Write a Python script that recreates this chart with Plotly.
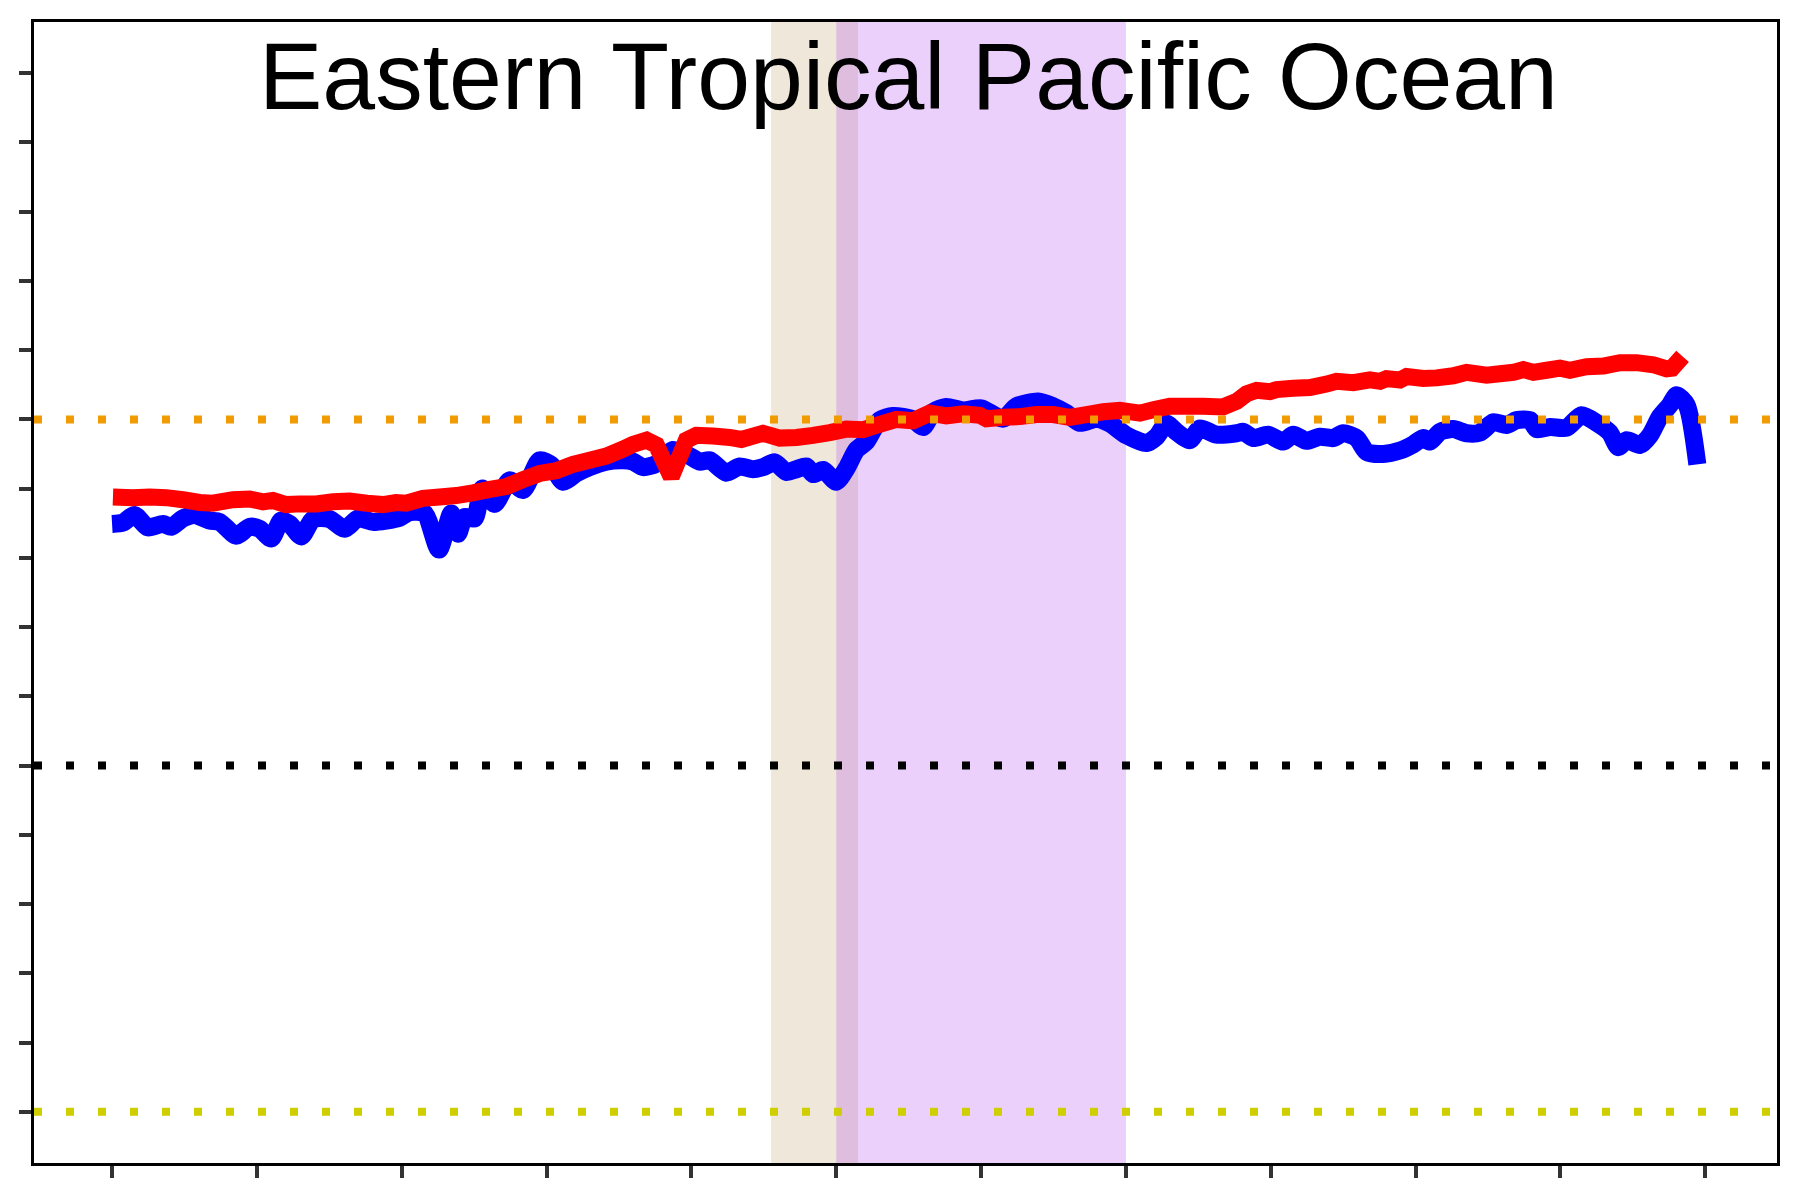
import plotly.graph_objects as go

# ---- data (x in years since start, y in chart units) ----
blue_x = [0.0, 0.75, 1.55, 2.47, 3.51, 4.09, 4.89, 5.7, 6.73, 7.42, 8.58, 9.5, 10.19, 10.99, 11.68,
          12.26, 13.07, 13.87, 15.02, 16.06, 16.98, 18.01, 18.93, 19.85, 20.54, 21.58, 22.57, 23.42,
          23.88, 24.34, 25.03, 25.56, 26.41, 27.45, 28.37, 29.52, 30.33, 31.13, 32.05, 32.97, 34.12,
          35.27, 35.96, 36.66, 37.58, 38.73, 39.88, 40.57, 41.26, 42.41, 43.33, 44.25, 44.94, 45.75,
          46.56, 47.25, 47.94, 48.4, 49.09, 50.0, 50.7, 51.39, 52.08, 53.0, 53.92, 55.3, 56.0, 56.69,
          57.6, 58.76, 60.0, 61.52, 62.44, 63.94, 64.97, 65.9, 66.82, 67.97, 68.89, 70.04, 71.42,
          72.11, 72.8, 73.49, 74.41, 75.1, 76.25, 77.64, 78.1, 78.79, 79.8, 80.86, 81.55, 82.47,
          83.39, 84.31, 85.0, 85.93, 86.62, 87.77, 88.92, 89.84, 90.53, 90.99, 91.68, 92.6, 93.52,
          94.44, 95.36, 96.28, 96.98, 97.9, 98.36, 99.28, 100.42, 101.46, 102.5, 103.4, 103.99,
          104.57, 105.49, 106.18, 106.87, 107.56, 108.02, 108.71, 109.45]
blue_y = [8.49, 8.51, 8.62, 8.44, 8.49, 8.45, 8.57, 8.62, 8.54, 8.52, 8.32, 8.45, 8.42, 8.28, 8.54,
          8.49, 8.31, 8.56, 8.56, 8.42, 8.57, 8.52, 8.54, 8.58, 8.66, 8.64, 8.12, 8.64,
          8.35, 8.59, 8.57, 9.00, 8.78, 9.12, 8.98, 9.41, 9.34, 9.10, 9.22, 9.31, 9.39,
          9.41, 9.39, 9.31, 9.36, 9.56, 9.47, 9.39, 9.41, 9.23, 9.32, 9.28, 9.31, 9.38,
          9.24, 9.28, 9.32, 9.21, 9.27, 9.10, 9.29, 9.56, 9.68, 9.99, 10.05, 10.00, 9.89, 10.11,
          10.18, 10.13, 10.16, 10.01, 10.19, 10.26, 10.19, 10.09, 9.95, 10.01, 9.94, 9.77, 9.66,
          9.75, 9.94, 9.82, 9.70, 9.87, 9.78, 9.80, 9.82, 9.73, 9.78, 9.68, 9.78, 9.69,
          9.75, 9.73, 9.80, 9.73, 9.53, 9.50, 9.55, 9.64, 9.73, 9.68, 9.82, 9.86, 9.80,
          9.81, 9.96, 9.92, 9.99, 9.99, 9.86, 9.89, 9.88, 10.06, 9.95, 9.81, 9.60,
          9.70, 9.63, 9.77, 10.04, 10.21, 10.35, 10.21, 9.35]

red_x = [0.06, 1.44, 2.59, 3.74, 4.89, 6.04, 6.96, 8.34, 9.5, 10.42, 11.1, 12.0, 12.95, 14.1, 15.25,
         16.4, 17.6, 18.7, 19.6, 20.31, 21.46, 22.61, 23.76, 24.91, 26.07, 27.22, 28.37, 29.52,
         30.67, 31.82, 32.97, 34.12, 35.27, 35.96, 36.9, 37.58, 38.61, 39.65, 40.34, 41.49, 42.64,
         43.45, 44.94, 46.1, 47.25, 48.4, 49.55, 50.7, 51.85, 53.0, 54.15, 55.3, 56.45, 57.6,
         58.76, 59.9, 60.37, 61.52, 62.67, 63.82, 64.97, 66.13, 67.28, 68.43, 69.58, 70.96, 71.88,
         73.03, 74.18, 75.33, 76.7, 77.64, 78.33, 79.02, 79.94, 80.4, 81.55, 82.7, 83.85, 84.54,
         85.7, 86.85, 87.54, 87.99, 88.92, 89.38, 90.53, 91.45, 92.6, 93.52, 94.9, 95.82, 96.75,
         97.44, 98.13, 99.05, 99.97, 100.65, 101.8, 102.96, 104.11, 105.26, 106.41, 107.33,
         107.7, 108.43]
red_y = [8.88, 8.87, 8.88, 8.87, 8.84, 8.80, 8.79, 8.84, 8.85, 8.81, 8.83, 8.77, 8.78, 8.78, 8.81,
         8.82, 8.79, 8.77, 8.80, 8.79, 8.86, 8.88, 8.90, 8.94, 8.99, 9.03, 9.13, 9.22,
         9.26, 9.35, 9.41, 9.47, 9.57, 9.64, 9.70, 9.63, 9.17, 9.70, 9.77, 9.76, 9.74,
         9.71, 9.80, 9.73, 9.74, 9.77, 9.81, 9.86, 9.85, 9.93, 10.00, 9.98, 10.09, 10.05,
         10.08, 10.06, 10.01, 10.03, 10.04, 10.07, 10.07, 10.03, 10.07, 10.11, 10.13, 10.09, 10.14,
         10.19, 10.19, 10.19, 10.18, 10.26, 10.37, 10.42, 10.40, 10.43, 10.45, 10.46, 10.51, 10.55,
         10.53, 10.57, 10.55, 10.59, 10.57, 10.62, 10.59, 10.60, 10.63, 10.68, 10.64, 10.66, 10.68,
         10.72, 10.68, 10.71, 10.74, 10.71, 10.76, 10.77, 10.82, 10.82, 10.79, 10.73,
         10.74, 10.91]

threshold_values = [10, 5, 0]
threshold_colors = ["#F29B00", "#000000", "#CFCF00"]

period_starts = [45.5, 50.0]
period_ends = [51.5, 70.0]
period_colors = ["rgba(206,180,140,0.32)", "rgba(170,60,240,0.24)"]

x_ticks = [0, 10, 20, 30, 40, 50, 60, 70, 80, 90, 100, 110]
y_ticks = list(range(0, 16))

title_text = "Eastern Tropical Pacific Ocean"

fig = go.Figure()

for x0, x1, c in zip(period_starts, period_ends, period_colors):
    fig.add_shape(type="rect", xref="x", yref="paper", x0=x0, x1=x1, y0=0, y1=1,
                  fillcolor=c, line_width=0, layer="below")

fig.add_trace(go.Scatter(x=blue_x, y=blue_y, mode="lines",
                         line=dict(color="#0000FF", width=18, shape="spline", smoothing=0.7,
                                   simplify=False),
                         showlegend=False, hoverinfo="skip"))
fig.add_trace(go.Scatter(x=red_x, y=red_y, mode="lines",
                         line=dict(color="#FF0000", width=17, simplify=False),
                         showlegend=False, hoverinfo="skip"))

for v, c in zip(threshold_values, threshold_colors):
    fig.add_shape(type="line", xref="paper", yref="y", x0=0, x1=1, y0=v, y1=v,
                  line=dict(color=c, width=8, dash="8px,24px"), layer="above")

fig.add_annotation(text=title_text, xref="paper", yref="paper", x=0.502, y=0.953,
                   xanchor="center", yanchor="middle", showarrow=False,
                   font=dict(family="Liberation Sans, Arial", size=95, color="black"))

axis_common = dict(showgrid=False, zeroline=False, showticklabels=False, automargin=False,
                   ticks="outside", ticklen=12, tickwidth=3.5, tickcolor="#333333",
                   showline=True, linecolor="black", linewidth=2.5, mirror=True)

fig.update_xaxes(range=[-5.39, 114.95], tickvals=x_ticks, **axis_common)
fig.update_yaxes(range=[-0.74, 15.74], tickvals=y_ticks, **axis_common)

# page body adds an 8px offset; figure sized to compensate
fig.update_layout(width=1792, height=1192, plot_bgcolor="white", paper_bgcolor="white",
                  margin=dict(l=26, r=23, t=14, b=37))

fig.write_html("out.html")
